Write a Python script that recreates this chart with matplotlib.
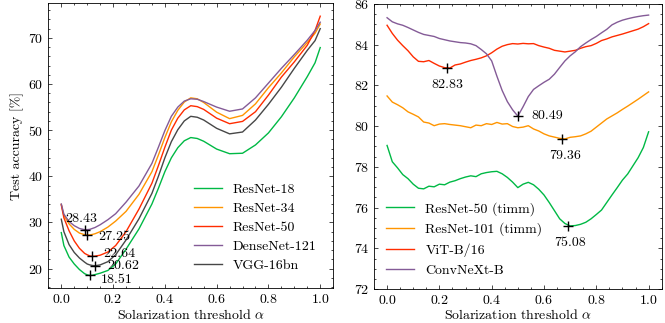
import numpy as np
from matplotlib import pyplot as plt
from matplotlib.ticker import AutoMinorLocator

# ---- linke Grafik: torchvision modeli ----
x_lijevo = [0.0, 0.01, 0.03, 0.05, 0.07, 0.09, 0.10, 0.11, 0.12, 0.13, 0.15, 0.18, 0.21,
            0.25, 0.30, 0.35, 0.375, 0.40, 0.425, 0.45, 0.475, 0.50, 0.525, 0.55, 0.60,
            0.65, 0.70, 0.75, 0.80, 0.85, 0.90, 0.95, 0.98, 1.00]
resnet18 = [27.8, 25.0, 22.5, 21.0, 19.8, 18.9, 18.65, 18.51, 18.55, 18.7, 19.0, 19.6, 21.0,
            24.2, 28.6, 34.0, 37.4, 41.0, 44.0, 46.2, 47.7, 48.4, 48.2, 47.6, 45.9,
            44.9, 45.0, 46.8, 49.4, 52.9, 57.0, 61.6, 64.6, 67.9]
resnet34 = [33.9, 31.5, 29.7, 28.5, 27.7, 27.35, 27.25, 27.3, 27.4, 27.55, 28.0, 29.0, 30.3,
            32.4, 36.1, 41.0, 44.6, 48.4, 51.8, 54.3, 56.1, 57.0, 56.8, 56.0, 53.9,
            52.5, 53.2, 55.7, 59.2, 62.4, 65.9, 69.0, 71.0, 73.0]
resnet50 = [33.8, 31.0, 28.2, 26.0, 24.4, 23.3, 23.0, 22.75, 22.64, 22.7, 22.9, 23.6, 25.0,
            28.0, 32.9, 38.5, 42.3, 46.3, 50.0, 52.6, 54.4, 55.3, 55.1, 54.5, 52.6,
            51.4, 51.9, 54.0, 57.6, 61.5, 64.8, 68.4, 71.6, 74.7]
densenet121 = [34.0, 31.8, 30.2, 29.3, 28.7, 28.43, 28.45, 28.5, 28.7, 28.9, 29.5, 30.6, 31.9,
               34.4, 37.9, 42.8, 46.3, 49.9, 53.0, 55.0, 56.3, 56.8, 56.7, 56.2, 55.0,
               54.1, 54.6, 57.0, 60.2, 63.4, 66.4, 69.5, 71.6, 73.4]
vgg16bn = [30.7, 28.0, 25.2, 23.5, 22.3, 21.4, 21.0, 20.8, 20.68, 20.62, 20.8, 21.5, 23.0,
           26.2, 30.8, 36.3, 40.0, 44.0, 47.5, 50.1, 52.0, 53.0, 52.8, 52.2, 50.4,
           49.2, 49.6, 52.2, 55.6, 59.3, 63.4, 67.3, 69.4, 72.0]
imena_lijevo = ['ResNet-18', 'ResNet-34', 'ResNet-50', 'DenseNet-121', 'VGG-16bn']
min_x_lijevo = [0.11, 0.10, 0.12, 0.09, 0.13]
min_y_lijevo = [18.51, 27.25, 22.64, 28.43, 20.62]

# ---- desna grafika: timm modeli ----
x_desno = [i / 50 for i in range(51)]
resnet50_timm = [79.05, 78.25, 77.95, 77.62, 77.42, 77.15, 76.95, 76.92, 77.05, 77.02,
                 77.15, 77.12, 77.25, 77.32, 77.42, 77.50, 77.56, 77.52, 77.66, 77.72,
                 77.76, 77.78, 77.66, 77.48, 77.25, 76.98, 77.15, 77.24, 77.12, 76.90,
                 76.62, 76.25, 75.85, 75.45, 75.22, 75.10, 75.12, 75.18, 75.28, 75.45,
                 75.66, 75.88, 76.25, 76.62, 76.98, 77.35, 77.65, 78.05, 78.45, 78.95, 79.72]
resnet101_timm = [81.48, 81.18, 81.05, 80.90, 80.70, 80.58, 80.45, 80.20, 80.15, 80.02,
                  80.10, 80.12, 80.08, 80.05, 80.02, 79.97, 79.92, 80.05, 80.02, 80.12,
                  80.08, 80.18, 80.10, 80.12, 79.98, 79.92, 79.95, 80.02, 79.86, 79.76,
                  79.62, 79.52, 79.46, 79.40, 79.37, 79.45, 79.48, 79.52, 79.62, 79.75,
                  79.95, 80.15, 80.35, 80.50, 80.65, 80.82, 80.98, 81.15, 81.32, 81.50, 81.68]
vit_b16 = [84.95, 84.55, 84.22, 83.95, 83.70, 83.40, 83.18, 83.16, 83.22, 83.08,
           82.95, 82.87, 82.85, 83.00, 83.05, 83.14, 83.22, 83.28, 83.35, 83.45,
           83.60, 83.78, 83.92, 84.00, 84.05, 84.03, 84.06, 84.04, 84.05, 83.95,
           83.88, 83.82, 83.72, 83.68, 83.64, 83.68, 83.72, 83.82, 83.90, 83.95,
           84.06, 84.20, 84.28, 84.38, 84.45, 84.52, 84.60, 84.68, 84.76, 84.88, 85.03]
convnext_b = [85.32, 85.12, 85.02, 84.95, 84.84, 84.72, 84.60, 84.50, 84.45, 84.40,
              84.30, 84.24, 84.18, 84.14, 84.10, 84.08, 84.04, 83.95, 83.76, 83.55,
              83.20, 82.45, 81.75, 81.20, 80.80, 80.49, 80.95, 81.45, 81.80, 81.98,
              82.15, 82.30, 82.55, 82.88, 83.20, 83.45, 83.65, 83.90, 84.08, 84.25,
              84.40, 84.58, 84.75, 84.97, 85.10, 85.20, 85.27, 85.33, 85.38, 85.42, 85.45]
imena_desno = ['ResNet-50 (timm)', 'ResNet-101 (timm)', 'ViT-B/16', 'ConvNeXt-B']
min_x_desno = [0.69, 0.67, 0.23, 0.50]
min_y_desno = [75.08, 79.36, 82.83, 80.49]

boje = ['#00B945', '#FF9500', '#FF2C00', '#845B97', '#474747']

plt.rcParams.update({
    'font.family': 'serif',
    'font.serif': ['cmr10', 'DejaVu Serif'],
    'mathtext.fontset': 'cm',
    'axes.formatter.use_mathtext': True,
    'font.size': 10,
    'axes.linewidth': 0.6,
    'lines.linewidth': 1.0,
    'xtick.direction': 'in',
    'ytick.direction': 'in',
    'xtick.top': True,
    'ytick.right': True,
    'xtick.major.size': 3,
    'ytick.major.size': 3,
    'xtick.minor.size': 1.5,
    'ytick.minor.size': 1.5,
    'xtick.major.width': 0.5,
    'ytick.major.width': 0.5,
    'xtick.minor.width': 0.5,
    'ytick.minor.width': 0.5,
    'legend.frameon': False,
})

fig = plt.figure(figsize=(6.65, 3.23), dpi=100)
ax1 = fig.add_axes([0.0727, 0.107, 0.4283, 0.883])
ax2 = fig.add_axes([0.5624, 0.105, 0.4326, 0.883])

# lijevo
serije = [resnet18, resnet34, resnet50, densenet121, vgg16bn]
for i, (y, ime) in enumerate(zip(serije, imena_lijevo)):
    ax1.plot(x_lijevo, y, color=boje[i], label=ime)
ax1.plot(min_x_lijevo, min_y_lijevo, '+', color='black', ms=7, mew=1, zorder=5)
pomaci = [(8, -3), (8, -1), (8, 2), (-14, 8), (9, 0)]
for mx, my, (dx, dy) in zip(min_x_lijevo, min_y_lijevo, pomaci):
    ax1.annotate(f'{my:.2f}', (mx, my), xytext=(dx, dy), textcoords='offset points',
                 ha='left', va='center')
ax1.set_xlabel(r'Solarization threshold $\alpha$', labelpad=1)
ax1.set_ylabel('Test accuracy [%]', labelpad=3)
ax1.set_xticks([0.0, 0.2, 0.4, 0.6, 0.8, 1.0])
ax1.legend(loc='lower right', handlelength=2.0, labelspacing=0.45, borderaxespad=0.8)

# desno
serije = [resnet50_timm, resnet101_timm, vit_b16, convnext_b]
for i, (y, ime) in enumerate(zip(serije, imena_desno)):
    ax2.plot(x_desno, y, color=boje[i], label=ime)
ax2.plot(min_x_desno, min_y_desno, '+', color='black', ms=7, mew=1, zorder=5)
pomaci = [(2, -12), (2, -12), (0, -12), (10, 0)]
for mx, my, (dx, dy) in zip(min_x_desno, min_y_desno, pomaci):
    ax2.annotate(f'{my:.2f}', (mx, my), xytext=(dx, dy), textcoords='offset points',
                 ha='left' if dx > 5 else 'center', va='center')
ax2.set_ylim(72, 86)
ax2.set_xticks([0.0, 0.2, 0.4, 0.6, 0.8, 1.0])
ax2.set_xlabel(r'Solarization threshold $\alpha$', labelpad=1)
ax2.legend(loc='lower left', handlelength=2.0, labelspacing=0.5, borderaxespad=0.5)

for ax in (ax1, ax2):
    ax.xaxis.set_minor_locator(AutoMinorLocator())
    ax.yaxis.set_minor_locator(AutoMinorLocator())

fig.savefig('out.png', dpi=100)
